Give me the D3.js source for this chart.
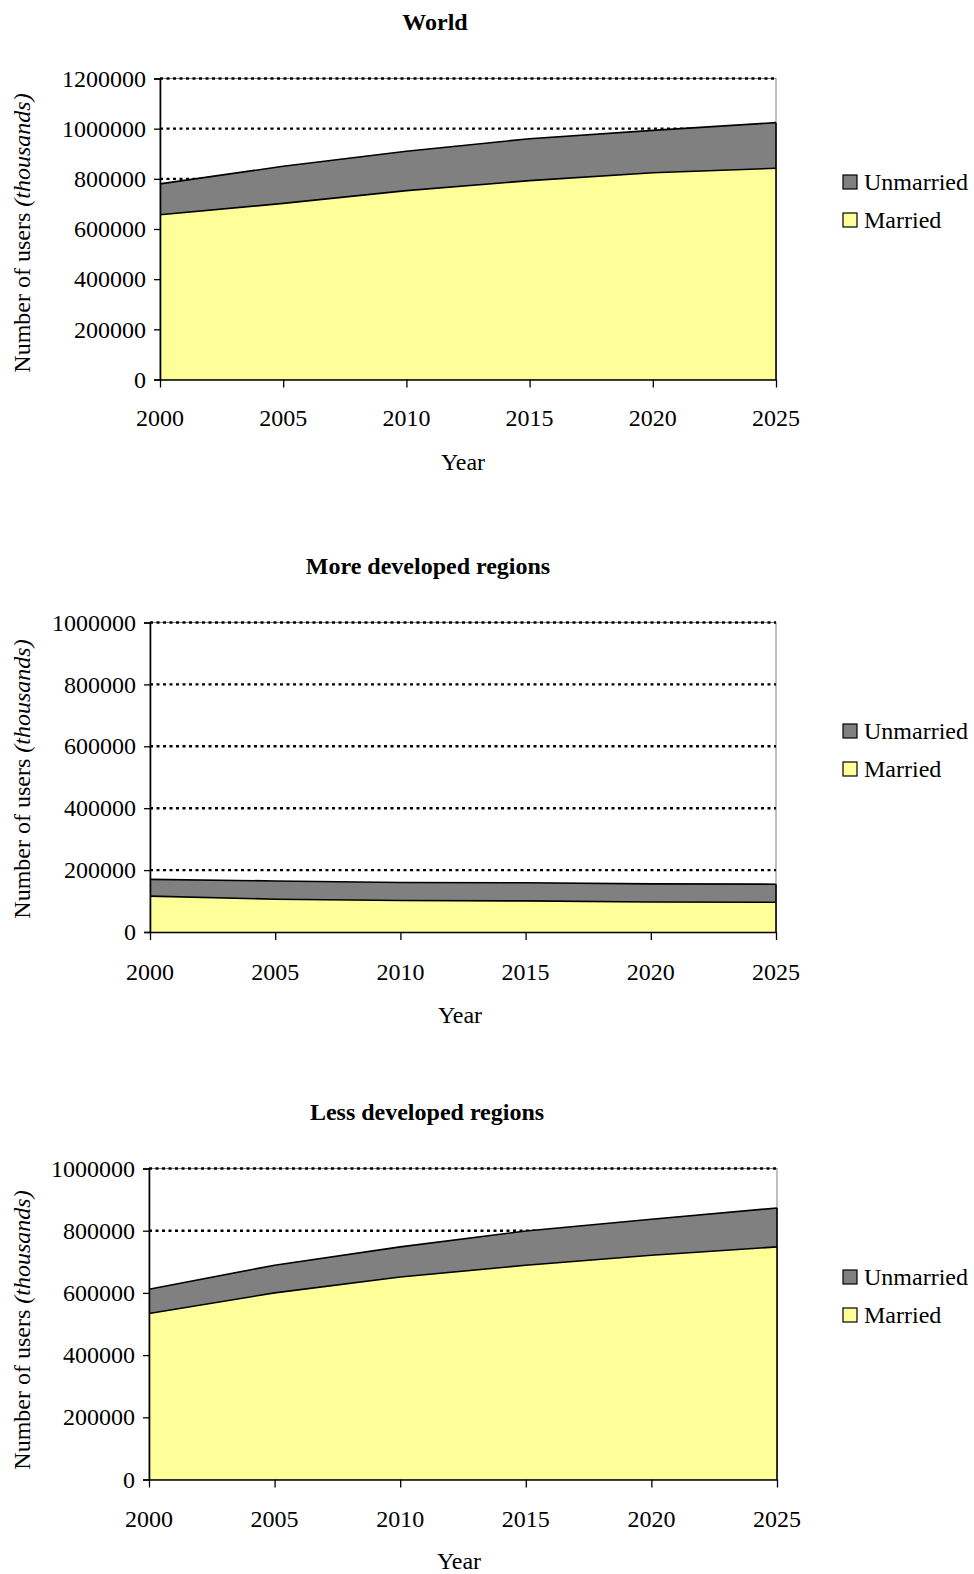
<!DOCTYPE html>
<html>
<head>
<meta charset="utf-8">
<script src="https://cdn.jsdelivr.net/npm/d3@7"></script>
<style>
  html, body { margin: 0; padding: 0; background: #fff; }
  svg { display: block; font-family: "Liberation Serif", "Times New Roman", serif; }
</style>
</head>
<body>
<svg id="chart" width="974" height="1574"></svg>
<script>
// Contraceptive users, thousands, by marital status
const years = [2000, 2005, 2010, 2015, 2020, 2025];
const seriesNames = ["Married", "Unmarried"];

const worldMarried   = [657000, 702000, 753000, 793000, 824000, 842000];
const worldUnmarried = [123000, 148000, 157000, 167000, 169000, 182000];

const moreMarried    = [116000, 106000, 102000, 100500, 97000, 96000];
const moreUnmarried  = [54000, 59000, 58000, 58500, 58500, 58500];

const lessMarried    = [534000, 600000, 651000, 689000, 721000, 748000];
const lessUnmarried  = [78000, 89000, 97000, 110000, 116000, 125000];

const worldTicks = [0, 200000, 400000, 600000, 800000, 1000000, 1200000];
const regionTicks = [0, 200000, 400000, 600000, 800000, 1000000];

const colors = { Married: "#FFFF99", Unmarried: "#808080" };

// Panel layout
const panels = [
  { title: "World", married: worldMarried, unmarried: worldUnmarried, ticks: worldTicks,
    left: 160, right: 776, top: 78.5, bottom: 379.5, titleX: 435, titleY: 22,
    xLabelY: 417.5, yearX: 463, yearY: 462, yLabelY: 233, legendY: 182 },
  { title: "More developed regions", married: moreMarried, unmarried: moreUnmarried, ticks: regionTicks,
    left: 150, right: 776, top: 622.5, bottom: 932, titleX: 428, titleY: 566,
    xLabelY: 972, yearX: 460, yearY: 1015, yLabelY: 779, legendY: 731 },
  { title: "Less developed regions", married: lessMarried, unmarried: lessUnmarried, ticks: regionTicks,
    left: 149, right: 777, top: 1168.5, bottom: 1479.5, titleX: 427, titleY: 1112,
    xLabelY: 1518.5, yearX: 459, yearY: 1561, yLabelY: 1330, legendY: 1277 }
];

const svg = d3.select("#chart");
const fontSize = 24;
const serif = "Liberation Serif, Times New Roman, serif";

panels.forEach(p => {
  const g = svg.append("g");
  const x = d3.scaleLinear().domain([years[0], years[years.length - 1]]).range([p.left, p.right]);
  const y = d3.scaleLinear().domain([0, d3.max(p.ticks)]).range([p.bottom, p.top]);

  const rows = years.map((yr, i) => ({ year: yr, Married: p.married[i], Unmarried: p.unmarried[i] }));
  const stacked = d3.stack().keys(seriesNames)(rows);

  // Plot area border (thin grey)
  g.append("rect")
    .attr("x", p.left).attr("y", p.top)
    .attr("width", p.right - p.left).attr("height", p.bottom - p.top)
    .attr("fill", "none").attr("stroke", "#808080").attr("stroke-width", 1);

  // Dotted gridlines
  g.append("g").selectAll("line")
    .data(p.ticks.filter(t => t > 0))
    .join("line")
    .attr("x1", p.left).attr("x2", p.right)
    .attr("y1", d => y(d)).attr("y2", d => y(d))
    .attr("stroke", "#000").attr("stroke-width", 2.4)
    .attr("stroke-dasharray", "3,3.5");

  // Stacked areas
  const area = d3.area()
    .x(d => x(d.data.year))
    .y0(d => y(d[0]))
    .y1(d => y(d[1]));
  const topLine = d3.line()
    .x(d => x(d.data.year))
    .y(d => y(d[1]));

  g.append("g").selectAll("path")
    .data(stacked)
    .join("path")
    .attr("d", area)
    .attr("fill", d => colors[d.key])
    .attr("stroke", "none");

  g.append("g").selectAll("path")
    .data(stacked)
    .join("path")
    .attr("d", topLine)
    .attr("fill", "none")
    .attr("stroke", "#000")
    .attr("stroke-width", 1.6);

  // Right edge of the stack
  g.append("line")
    .attr("x1", p.right).attr("x2", p.right)
    .attr("y1", y(0)).attr("y2", y(stacked[1][stacked[1].length - 1][1]))
    .attr("stroke", "#000").attr("stroke-width", 1.6);

  // Y axis
  const yAxis = d3.axisLeft(y).tickValues(p.ticks).tickFormat(d3.format("d")).tickSize(6).tickPadding(8);
  const ya = g.append("g").attr("transform", `translate(${p.left},0)`).call(yAxis);
  ya.attr("font-family", serif).attr("font-size", fontSize);
  ya.select(".domain").attr("stroke", "#000").attr("stroke-width", 1.6);
  ya.selectAll(".tick line").attr("stroke", "#000").attr("stroke-width", 1.3);
  ya.selectAll(".tick text").attr("fill", "#000");

  // X axis
  const xAxis = d3.axisBottom(x).tickValues(years).tickFormat(d3.format("d")).tickSize(8).tickSizeOuter(0);
  const xa = g.append("g").attr("transform", `translate(0,${p.bottom})`).call(xAxis);
  xa.select(".domain").attr("stroke", "#000").attr("stroke-width", 1.6);
  xa.selectAll(".tick line").attr("stroke", "#000").attr("stroke-width", 1.3);
  xa.selectAll(".tick text").remove();
  g.append("g").selectAll("text")
    .data(years)
    .join("text")
    .attr("x", d => x(d))
    .attr("y", p.xLabelY)
    .attr("text-anchor", "middle")
    .attr("dominant-baseline", "central")
    .attr("font-size", fontSize)
    .text(d => d);

  // Title
  g.append("text")
    .attr("x", p.titleX).attr("y", p.titleY)
    .attr("text-anchor", "middle").attr("dominant-baseline", "central")
    .attr("font-size", fontSize).attr("font-weight", "bold")
    .text(p.title);

  // X axis title
  g.append("text")
    .attr("x", p.yearX).attr("y", p.yearY)
    .attr("text-anchor", "middle").attr("dominant-baseline", "central")
    .attr("font-size", fontSize)
    .text("Year");

  // Y axis title
  const yt = g.append("text")
    .attr("transform", `translate(22,${p.yLabelY}) rotate(-90)`)
    .attr("text-anchor", "middle").attr("dominant-baseline", "central")
    .attr("font-size", fontSize);
  yt.append("tspan").text("Number of users ");
  yt.append("tspan").attr("font-style", "italic").text("(thousands)");

  // Legend
  const legendItems = ["Unmarried", "Married"];
  const lg = g.append("g").attr("transform", `translate(843,${p.legendY})`);
  legendItems.forEach((name, i) => {
    const row = lg.append("g").attr("transform", `translate(0,${i * 38})`);
    row.append("rect")
      .attr("x", 0).attr("y", -7).attr("width", 14).attr("height", 14)
      .attr("fill", colors[name]).attr("stroke", "#000").attr("stroke-width", 1.2);
    row.append("text")
      .attr("x", 21).attr("y", 0)
      .attr("dominant-baseline", "central")
      .attr("font-size", fontSize)
      .text(name);
  });
});
</script>
</body>
</html>
